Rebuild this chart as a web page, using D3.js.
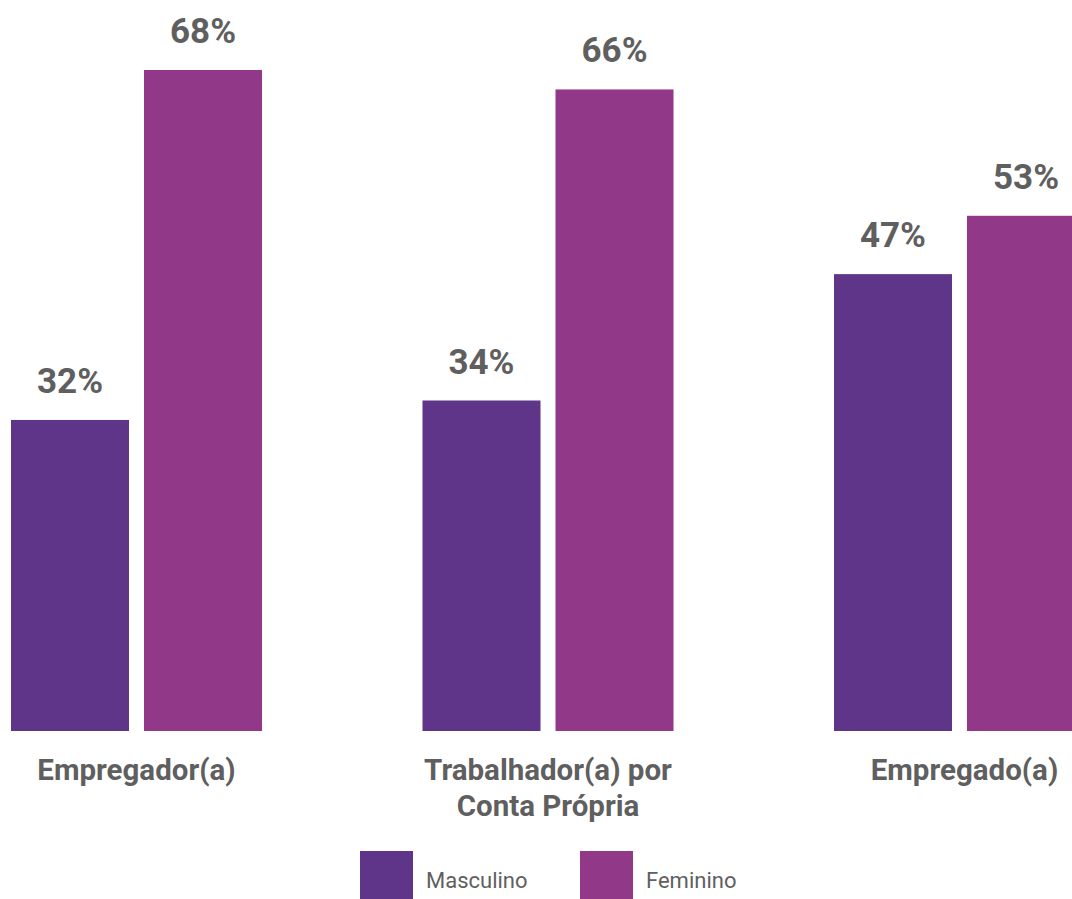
<!DOCTYPE html>
<html>
<head>
<meta charset="utf-8">
<script src="https://cdn.jsdelivr.net/npm/d3@7/dist/d3.min.js"></script>
<style>
  html, body { margin: 0; padding: 0; background: #ffffff; overflow: hidden; }
  svg { display: block; }
</style>
</head>
<body>
<div id="chart"></div>
<script>
// Occupational position by sex (share within each category)
const categories = ["Empregador(a)", "Trabalhador(a) por Conta Própria", "Empregado(a)"];
const categoryLines = [["Empregador(a)"], ["Trabalhador(a) por", "Conta Própria"], ["Empregado(a)"]];
const series = ["Masculino", "Feminino"];
const masculino = [32, 34, 47];
const feminino = [68, 66, 53];
const colors = ["#5f358a", "#923889"];

const width = 1072, height = 899;
const svg = d3.select("#chart").append("svg")
  .attr("width", width).attr("height", height);

const baseline = 731;
const x0 = d3.scaleBand().domain(categories).range([11, 1085]).paddingInner(0.39).paddingOuter(0);
const x1 = d3.scaleBand().domain(series).range([0, x0.bandwidth()]).paddingInner(15 / 133).paddingOuter(0);
const y = d3.scaleLinear().domain([0, 68]).range([baseline, 70]);

const rows = categories.map((c, i) => ({
  category: c,
  values: [
    { key: "Masculino", value: masculino[i] },
    { key: "Feminino", value: feminino[i] }
  ]
}));

const groups = svg.selectAll("g.group").data(rows).join("g")
  .attr("class", "group")
  .attr("transform", d => `translate(${x0(d.category)},0)`);

groups.selectAll("rect").data(d => d.values).join("rect")
  .attr("x", d => x1(d.key))
  .attr("y", d => y(d.value))
  .attr("width", x1.bandwidth())
  .attr("height", d => baseline - y(d.value))
  .attr("fill", (d, i) => colors[i]);

groups.selectAll("text.val").data(d => d.values).join("text")
  .attr("class", "val")
  .attr("x", d => x1(d.key) + x1.bandwidth() / 2)
  .attr("y", d => y(d.value) - 27)
  .attr("text-anchor", "middle")
  .attr("font-family", "Roboto, sans-serif")
  .attr("font-weight", 700)
  .attr("font-size", 35)
  .attr("fill", "#5f5f5f")
  .text(d => d.value + "%");

// Category labels below the bars
groups.each(function (d, i) {
  const t = d3.select(this).append("text")
    .attr("text-anchor", "middle")
    .attr("font-family", "Roboto, sans-serif")
    .attr("font-weight", 700)
    .attr("font-size", 29.5)
    .attr("fill", "#5f5f5f");
  categoryLines[i].forEach((line, j) => {
    t.append("tspan")
      .attr("x", x0.bandwidth() / 2 + (i === 2 ? 5 : 0))
      .attr("y", 780 + j * 36)
      .text(line);
  });
});

// Legend
const legendX = [360, 580];
const legend = svg.selectAll("g.legend").data(series).join("g")
  .attr("class", "legend")
  .attr("transform", (d, i) => `translate(${legendX[i]},851)`);
legend.append("rect")
  .attr("width", 53).attr("height", 53)
  .attr("fill", (d, i) => colors[i]);
legend.append("text")
  .attr("x", 66).attr("y", 37)
  .attr("font-family", "Roboto, sans-serif")
  .attr("font-size", 22)
  .attr("fill", "#5f5f5f")
  .text(d => d);
</script>
</body>
</html>
